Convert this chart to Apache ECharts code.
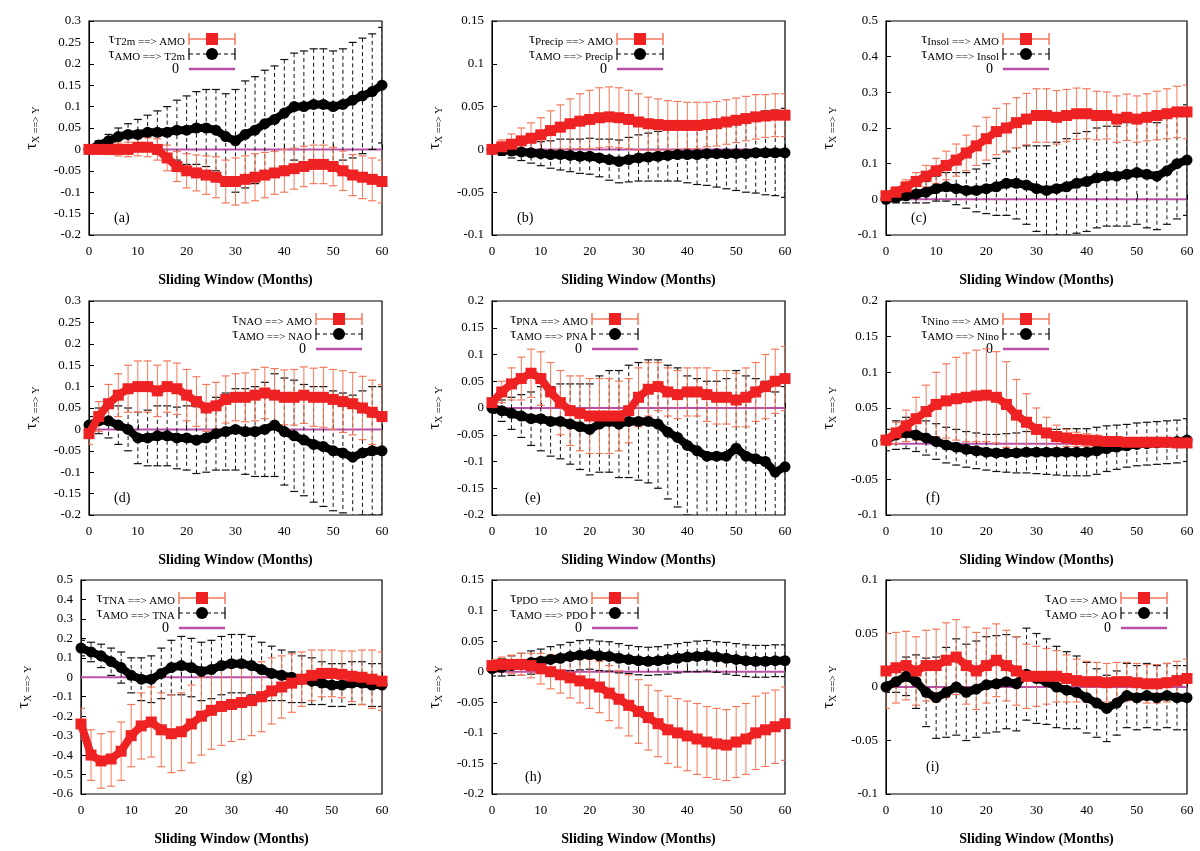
<!DOCTYPE html>
<html><head><meta charset="utf-8">
<script src="https://cdn.jsdelivr.net/npm/echarts@6/dist/echarts.min.js"></script>
<style>html,body{margin:0;background:#fff}#main{width:1200px;height:851px}</style>
</head><body><div id="main"></div>
<script>
var months = [0,2,4,6,8,10,12,14,16,18,20,22,24,26,28,30,32,34,36,38,40,42,44,46,48,50,52,54,56,58,60];

var redA = [0,0,0,0,0,0.005,0.005,0,-0.02,-0.04,-0.05,-0.055,-0.06,-0.065,-0.075,-0.075,-0.07,-0.065,-0.06,-0.055,-0.05,-0.045,-0.04,-0.035,-0.035,-0.04,-0.05,-0.06,-0.065,-0.07,-0.075];
var redAErr = [0.008,0.01,0.012,0.015,0.017,0.02,0.022,0.025,0.03,0.035,0.04,0.042,0.045,0.048,0.05,0.055,0.055,0.055,0.053,0.05,0.05,0.048,0.047,0.045,0.045,0.045,0.046,0.048,0.05,0.05,0.05];
var blackA = [0,0.01,0.02,0.03,0.035,0.035,0.04,0.04,0.04,0.045,0.045,0.05,0.05,0.045,0.03,0.02,0.035,0.045,0.06,0.07,0.085,0.1,0.1,0.105,0.105,0.1,0.105,0.115,0.125,0.135,0.15];
var blackAErr = [0.005,0.01,0.015,0.02,0.025,0.035,0.04,0.05,0.06,0.07,0.08,0.085,0.09,0.095,0.1,0.12,0.125,0.125,0.125,0.125,0.125,0.125,0.13,0.13,0.13,0.13,0.13,0.135,0.135,0.135,0.135];

var redB = [0,0.003,0.006,0.01,0.013,0.017,0.022,0.026,0.03,0.033,0.035,0.037,0.038,0.037,0.035,0.032,0.03,0.029,0.028,0.028,0.028,0.028,0.029,0.03,0.032,0.034,0.036,0.038,0.039,0.04,0.04];
var redBErr = [0.005,0.008,0.012,0.015,0.018,0.02,0.023,0.026,0.029,0.032,0.034,0.035,0.035,0.035,0.034,0.033,0.031,0.03,0.029,0.028,0.027,0.027,0.026,0.026,0.026,0.026,0.026,0.026,0.025,0.025,0.025];
var blackB = [0,-0.001,-0.002,-0.003,-0.004,-0.005,-0.006,-0.006,-0.007,-0.008,-0.008,-0.01,-0.012,-0.014,-0.012,-0.01,-0.009,-0.008,-0.007,-0.006,-0.006,-0.006,-0.005,-0.005,-0.005,-0.005,-0.005,-0.004,-0.004,-0.004,-0.004];
var blackBErr = [0.004,0.006,0.008,0.01,0.012,0.014,0.016,0.018,0.019,0.02,0.021,0.022,0.024,0.025,0.026,0.027,0.028,0.029,0.03,0.031,0.033,0.035,0.037,0.039,0.041,0.043,0.045,0.047,0.049,0.05,0.052];

var redC = [0.01,0.02,0.035,0.05,0.065,0.08,0.095,0.11,0.13,0.15,0.17,0.19,0.2,0.215,0.225,0.235,0.235,0.23,0.235,0.24,0.24,0.235,0.235,0.225,0.23,0.225,0.23,0.235,0.24,0.245,0.245];
var redCErr = [0.01,0.015,0.02,0.025,0.03,0.035,0.04,0.045,0.05,0.055,0.06,0.065,0.068,0.07,0.072,0.075,0.075,0.075,0.073,0.072,0.07,0.068,0.066,0.065,0.065,0.065,0.066,0.068,0.07,0.072,0.075];
var blackC = [0,0.005,0.01,0.015,0.02,0.03,0.035,0.03,0.025,0.025,0.03,0.035,0.045,0.045,0.04,0.03,0.025,0.03,0.035,0.045,0.05,0.06,0.065,0.065,0.07,0.075,0.07,0.065,0.08,0.1,0.11];
var blackCErr = [0.01,0.015,0.02,0.025,0.03,0.035,0.04,0.045,0.05,0.06,0.07,0.08,0.09,0.1,0.11,0.12,0.125,0.13,0.135,0.14,0.14,0.14,0.14,0.14,0.145,0.145,0.15,0.15,0.15,0.155,0.155];

var redD = [-0.01,0.03,0.06,0.08,0.095,0.1,0.1,0.09,0.1,0.095,0.08,0.065,0.05,0.055,0.07,0.075,0.075,0.08,0.085,0.08,0.075,0.075,0.08,0.075,0.075,0.07,0.065,0.06,0.05,0.04,0.03];
var redDErr = [0.025,0.035,0.045,0.05,0.055,0.06,0.06,0.06,0.06,0.06,0.06,0.058,0.055,0.055,0.055,0.055,0.057,0.06,0.06,0.062,0.064,0.065,0.066,0.068,0.07,0.07,0.072,0.073,0.074,0.075,0.075];
var blackD = [0.01,0.02,0.02,0.01,0,-0.02,-0.02,-0.015,-0.015,-0.02,-0.02,-0.025,-0.02,-0.01,-0.005,0,-0.005,-0.005,0,0.01,-0.005,-0.015,-0.025,-0.035,-0.04,-0.05,-0.055,-0.065,-0.055,-0.05,-0.05];
var blackDErr = [0.02,0.03,0.04,0.045,0.05,0.06,0.065,0.07,0.07,0.072,0.075,0.078,0.08,0.085,0.09,0.095,0.1,0.105,0.11,0.12,0.125,0.13,0.13,0.135,0.14,0.14,0.14,0.145,0.145,0.15,0.15];

var redE = [0.01,0.03,0.045,0.055,0.065,0.055,0.03,0.01,-0.005,-0.01,-0.015,-0.015,-0.015,-0.015,-0.005,0.02,0.035,0.04,0.03,0.025,0.03,0.03,0.025,0.02,0.02,0.015,0.02,0.03,0.04,0.05,0.055];
var redEErr = [0.01,0.02,0.03,0.04,0.045,0.05,0.055,0.06,0.065,0.07,0.07,0.07,0.07,0.065,0.06,0.055,0.05,0.045,0.045,0.045,0.045,0.045,0.05,0.05,0.05,0.05,0.055,0.055,0.06,0.06,0.06];
var blackE = [0,-0.005,-0.01,-0.015,-0.02,-0.02,-0.025,-0.025,-0.03,-0.035,-0.04,-0.03,-0.025,-0.03,-0.025,-0.025,-0.025,-0.03,-0.045,-0.055,-0.07,-0.08,-0.09,-0.09,-0.09,-0.075,-0.09,-0.095,-0.1,-0.12,-0.11];
var blackEErr = [0.01,0.02,0.03,0.04,0.05,0.06,0.065,0.07,0.075,0.08,0.085,0.09,0.095,0.1,0.105,0.11,0.115,0.12,0.125,0.13,0.13,0.135,0.14,0.14,0.145,0.145,0.15,0.15,0.15,0.15,0.15];

var redF = [0.005,0.015,0.025,0.035,0.045,0.055,0.06,0.063,0.065,0.067,0.068,0.065,0.055,0.04,0.03,0.02,0.015,0.01,0.008,0.006,0.005,0.004,0.003,0.003,0.002,0.002,0.002,0.002,0.002,0.001,0.001];
var redFErr = [0.008,0.015,0.022,0.03,0.037,0.045,0.052,0.058,0.062,0.064,0.065,0.064,0.06,0.05,0.04,0.03,0.022,0.016,0.012,0.01,0.009,0.008,0.007,0.006,0.006,0.005,0.005,0.005,0.005,0.005,0.005];
var blackF = [0.005,0.012,0.015,0.012,0.008,0.003,-0.002,-0.005,-0.008,-0.01,-0.012,-0.013,-0.013,-0.013,-0.012,-0.012,-0.012,-0.012,-0.012,-0.012,-0.012,-0.01,-0.007,-0.005,-0.003,-0.001,0,0.001,0.002,0.003,0.005];
var blackFErr = [0.015,0.02,0.022,0.023,0.024,0.025,0.025,0.025,0.025,0.025,0.025,0.026,0.027,0.028,0.029,0.03,0.031,0.032,0.033,0.033,0.033,0.033,0.032,0.031,0.03,0.03,0.03,0.03,0.03,0.03,0.03];

var redG = [-0.24,-0.4,-0.43,-0.42,-0.38,-0.3,-0.25,-0.23,-0.27,-0.29,-0.28,-0.24,-0.2,-0.17,-0.15,-0.14,-0.13,-0.12,-0.1,-0.07,-0.05,-0.03,-0.01,0.01,0.02,0.02,0.015,0.005,0,-0.01,-0.02];
var redGErr = [0.08,0.13,0.14,0.14,0.15,0.16,0.17,0.18,0.19,0.2,0.2,0.2,0.2,0.2,0.2,0.19,0.19,0.18,0.18,0.17,0.16,0.15,0.14,0.13,0.12,0.12,0.12,0.13,0.14,0.15,0.15];
var blackG = [0.15,0.13,0.11,0.08,0.05,0.01,-0.01,-0.01,0.02,0.05,0.06,0.05,0.03,0.04,0.06,0.07,0.07,0.06,0.04,0.02,0.01,0,-0.01,-0.02,-0.03,-0.04,-0.04,-0.03,-0.03,-0.04,-0.04];
var blackGErr = [0.04,0.05,0.06,0.07,0.08,0.09,0.11,0.12,0.13,0.14,0.15,0.15,0.15,0.15,0.15,0.15,0.15,0.15,0.14,0.14,0.13,0.13,0.12,0.12,0.11,0.11,0.11,0.11,0.11,0.11,0.11];

var redH = [0.01,0.012,0.012,0.012,0.01,0.005,0,-0.005,-0.01,-0.015,-0.02,-0.025,-0.035,-0.045,-0.055,-0.065,-0.075,-0.085,-0.095,-0.1,-0.105,-0.11,-0.115,-0.118,-0.12,-0.115,-0.11,-0.1,-0.095,-0.09,-0.085];
var redHErr = [0.01,0.012,0.015,0.018,0.02,0.025,0.028,0.03,0.033,0.036,0.04,0.042,0.045,0.047,0.05,0.052,0.053,0.054,0.055,0.056,0.057,0.058,0.058,0.058,0.058,0.058,0.058,0.06,0.06,0.06,0.06];
var blackH = [0.005,0.007,0.01,0.012,0.015,0.017,0.02,0.022,0.025,0.027,0.028,0.026,0.025,0.022,0.02,0.018,0.017,0.018,0.02,0.022,0.024,0.025,0.026,0.024,0.022,0.02,0.018,0.017,0.017,0.018,0.018];
var blackHErr = [0.012,0.014,0.016,0.018,0.019,0.02,0.021,0.022,0.023,0.024,0.024,0.024,0.024,0.024,0.023,0.023,0.023,0.023,0.024,0.024,0.024,0.025,0.025,0.025,0.026,0.026,0.026,0.026,0.026,0.026,0.026];

var redI = [0.015,0.018,0.02,0.015,0.02,0.02,0.025,0.028,0.02,0.015,0.02,0.025,0.02,0.015,0.01,0.01,0.01,0.01,0.008,0.006,0.005,0.005,0.004,0.005,0.005,0.004,0.003,0.003,0.004,0.006,0.008];
var redIErr = [0.035,0.033,0.032,0.032,0.033,0.034,0.035,0.035,0.036,0.036,0.035,0.034,0.033,0.032,0.03,0.028,0.026,0.024,0.022,0.02,0.019,0.018,0.018,0.018,0.018,0.018,0.018,0.018,0.018,0.018,0.018];
var blackI = [0,0.005,0.01,0.005,-0.005,-0.01,-0.005,0,-0.005,-0.002,0.002,0.003,0.005,0.003,0.012,0.008,0.005,0,-0.003,-0.005,-0.01,-0.015,-0.02,-0.015,-0.008,-0.01,-0.008,-0.01,-0.008,-0.01,-0.01];
var blackIErr = [0.005,0.01,0.018,0.025,0.032,0.038,0.042,0.045,0.045,0.045,0.045,0.045,0.044,0.044,0.043,0.042,0.04,0.038,0.036,0.034,0.033,0.032,0.031,0.03,0.03,0.03,0.03,0.03,0.03,0.03,0.03];

var varNames = ['T2m','Precip','Insol','NAO','PNA','Nino','TNA','PDO','AO'];
var panelTags = ['(a)','(b)','(c)','(d)','(e)','(f)','(g)','(h)','(i)'];
var yMins = [-0.2,-0.1,-0.1,-0.2,-0.2,-0.1,-0.6,-0.2,-0.1];
var yMaxs = [0.3,0.15,0.5,0.3,0.2,0.2,0.5,0.15,0.1];
var ySteps = [0.05,0.05,0.1,0.05,0.05,0.05,0.1,0.05,0.05];
var reds = [redA,redB,redC,redD,redE,redF,redG,redH,redI];
var redErrs = [redAErr,redBErr,redCErr,redDErr,redEErr,redFErr,redGErr,redHErr,redIErr];
var blacks = [blackA,blackB,blackC,blackD,blackE,blackF,blackG,blackH,blackI];
var blackErrs = [blackAErr,blackBErr,blackCErr,blackDErr,blackEErr,blackFErr,blackGErr,blackHErr,blackIErr];

// layout (pixels)
var colLeft = [89,492,886], colWidth = [293,293,301];
var rowTop = [21,301,580], plotH = 214;
var legendX = [100,125,117,227,100,117,98,100,235];
var tagPos = [[25,190],[25,190],[25,190],[25,190],[33,190],[40,190],[155,190],[33,190],[40,180]];

var FONT = 'Liberation Serif';
var RED = '#ee2222', REDBAR = '#f4795c', MAG = '#b94fa6';

var chart = echarts.init(document.getElementById('main'));
var grids = [], xAxes = [], yAxes = [], series = [], graphics = [];

function errBars(xs, ys, es) {
  return xs.map(function (x, i) { return [x, ys[i], es[i]]; });
}

function barRenderer(color, dashed) {
  return function (params, api) {
    var x = api.value(0), v = api.value(1), e = api.value(2);
    var hi = api.coord([x, v + e]), lo = api.coord([x, v - e]);
    var st = { stroke: color, lineWidth: 1 };
    if (dashed) st.lineDash = [4, 3];
    return { type: 'group', children: [
      { type: 'line', shape: { x1: hi[0], y1: hi[1], x2: lo[0], y2: lo[1] }, style: st },
      { type: 'line', shape: { x1: hi[0] - 4, y1: hi[1], x2: hi[0] + 4, y2: hi[1] }, style: { stroke: color, lineWidth: 1.2 } },
      { type: 'line', shape: { x1: lo[0] - 4, y1: lo[1], x2: lo[0] + 4, y2: lo[1] }, style: { stroke: color, lineWidth: 1.2 } }
    ] };
  };
}

for (var p = 0; p < 9; p++) {
  var row = Math.floor(p / 3), col = p % 3;
  var gLeft = colLeft[col], gWidth = colWidth[col];
  if (p === 6) { gLeft = 81; gWidth = 301; }
  var gTop = rowTop[row];
  grids.push({ left: gLeft, top: gTop, width: gWidth, height: plotH, show: true, borderColor: '#000', borderWidth: 1.2 });
  xAxes.push({
    gridIndex: p, type: 'value', min: 0, max: 60, interval: 10,
    axisLine: { lineStyle: { color: '#000' } }, axisTick: { inside: true, length: 5 },
    splitLine: { show: false },
    axisLabel: { color: '#000', fontFamily: FONT, fontSize: 13, margin: 10 },
    name: 'Sliding Window (Months)', nameLocation: 'middle', nameGap: 38,
    nameTextStyle: { color: '#000', fontFamily: FONT, fontSize: 14, fontWeight: 'bold' }
  });
  yAxes.push({
    gridIndex: p, type: 'value', min: yMins[p], max: yMaxs[p], interval: ySteps[p],
    axisLine: { lineStyle: { color: '#000' } }, axisTick: { inside: true, length: 5 },
    splitLine: { show: false },
    axisLabel: { color: '#000', fontFamily: FONT, fontSize: 13, formatter: function (v) { return String(+v.toFixed(2)); } },
    name: '{t|τ}{s|X ==> Y}', nameLocation: 'middle', nameGap: 48, nameRotate: 90,
    nameTextStyle: { color: '#000', fontFamily: FONT, rich: {
      t: { fontSize: 16, fontFamily: FONT, color: '#000' },
      s: { fontSize: 10, fontFamily: FONT, color: '#000', padding: [8, 0, 0, 0] } } }
  });

  series.push({ type: 'line', xAxisIndex: p, yAxisIndex: p, data: [[0, 0], [60, 0]], symbol: 'none', silent: true,
    lineStyle: { color: MAG, width: 2 }, z: 1 });
  series.push({ type: 'custom', xAxisIndex: p, yAxisIndex: p, renderItem: barRenderer('#111', true),
    data: errBars(months, blacks[p], blackErrs[p]), clip: true, z: 2 });
  series.push({ type: 'custom', xAxisIndex: p, yAxisIndex: p, renderItem: barRenderer(REDBAR, false),
    data: errBars(months, reds[p], redErrs[p]), clip: true, z: 3 });
  series.push({ type: 'line', xAxisIndex: p, yAxisIndex: p, data: months.map(function (x, i) { return [x, blacks[p][i]]; }),
    symbol: 'circle', symbolSize: 11, itemStyle: { color: '#000' }, lineStyle: { color: '#000', width: 8 }, z: 4 });
  series.push({ type: 'line', xAxisIndex: p, yAxisIndex: p, data: months.map(function (x, i) { return [x, reds[p][i]]; }),
    symbol: 'rect', symbolSize: 11, itemStyle: { color: RED }, lineStyle: { color: RED, width: 8 }, z: 5 });

  // legend
  var lx = gLeft + legendX[p], ly = gTop + 18, vName = varNames[p];
  var rich = { t: { fontSize: 15, fontFamily: FONT, color: '#000' },
               s: { fontSize: 11, fontFamily: FONT, color: '#000', padding: [7, 0, 0, 0] } };
  graphics.push({ type: 'text', x: lx - 4, y: ly, style: { text: '{t|τ}{s|' + vName + ' ==> AMO}', rich: rich, align: 'right', verticalAlign: 'middle' } });
  graphics.push({ type: 'text', x: lx - 4, y: ly + 15, style: { text: '{t|τ}{s|AMO ==> ' + vName + '}', rich: rich, align: 'right', verticalAlign: 'middle' } });
  graphics.push({ type: 'text', x: lx - 10, y: ly + 30, style: { text: '0', font: '14px "' + FONT + '"', fill: '#000', align: 'right', verticalAlign: 'middle' } });
  graphics.push({ type: 'line', shape: { x1: lx, y1: ly, x2: lx + 46, y2: ly }, style: { stroke: REDBAR, lineWidth: 1.5 } });
  graphics.push({ type: 'line', shape: { x1: lx, y1: ly - 6, x2: lx, y2: ly + 6 }, style: { stroke: REDBAR, lineWidth: 1.5 } });
  graphics.push({ type: 'line', shape: { x1: lx + 46, y1: ly - 6, x2: lx + 46, y2: ly + 6 }, style: { stroke: REDBAR, lineWidth: 1.5 } });
  graphics.push({ type: 'rect', shape: { x: lx + 17, y: ly - 6, width: 12, height: 12 }, style: { fill: RED } });
  graphics.push({ type: 'line', shape: { x1: lx, y1: ly + 15, x2: lx + 46, y2: ly + 15 }, style: { stroke: '#000', lineWidth: 1.2, lineDash: [4, 3] } });
  graphics.push({ type: 'line', shape: { x1: lx, y1: ly + 9, x2: lx, y2: ly + 21 }, style: { stroke: '#000', lineWidth: 1.2 } });
  graphics.push({ type: 'line', shape: { x1: lx + 46, y1: ly + 9, x2: lx + 46, y2: ly + 21 }, style: { stroke: '#000', lineWidth: 1.2 } });
  graphics.push({ type: 'circle', shape: { cx: lx + 23, cy: ly + 15, r: 6 }, style: { fill: '#000' } });
  graphics.push({ type: 'line', shape: { x1: lx, y1: ly + 30, x2: lx + 46, y2: ly + 30 }, style: { stroke: MAG, lineWidth: 2.5 } });
  graphics.push({ type: 'text', x: gLeft + tagPos[p][0], y: gTop + tagPos[p][1], style: { text: panelTags[p], font: '14px "' + FONT + '"', fill: '#000' } });
}

chart.setOption({
  animation: false,
  backgroundColor: '#fff',
  grid: grids, xAxis: xAxes, yAxis: yAxes, series: series,
  graphic: graphics
});
</script>
</body></html>
